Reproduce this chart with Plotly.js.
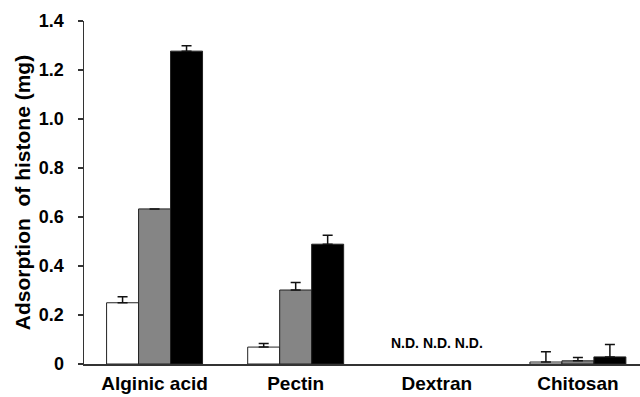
<!DOCTYPE html>
<html>
<head>
<meta charset="utf-8">
<script src="https://cdn.plot.ly/plotly-3.0.1.min.js"></script>
<style>html,body{margin:0;padding:0;background:#fff;}#chart{width:640px;height:397px;}</style>
</head>
<body>
<div id="chart"></div>
<script>
var categories = ["Alginic acid", "Pectin", "Dextran", "Chitosan"];
var series1 = [0.25, 0.069, null, 0.008];
var series1Err = [0.024, 0.015, null, 0.042];
var series2 = [0.633, 0.302, null, 0.013];
var series2Err = [null, 0.031, null, 0.014];
var series3 = [1.277, 0.489, null, 0.029];
var series3Err = [0.022, 0.037, null, 0.051];
var yTickVals = [0, 0.2, 0.4, 0.6, 0.8, 1.0, 1.2, 1.4];
var yTickText = ["0", "0.2", "0.4", "0.6", "0.8", "1.0", "1.2", "1.4"];
var ndLabel = "N.D. N.D. N.D.";

function mk(y, err, fill) {
  var minus = err.map(function (e) { return e === null ? null : 0; });
  return {
    type: "bar", x: categories, y: y,
    marker: {color: fill, line: {color: "#222", width: 1}},
    error_y: {type: "data", array: err, arrayminus: minus, symmetric: false,
              color: "#111", thickness: 1.5, width: 5},
    hoverinfo: "none", showlegend: false
  };
}
var data = [mk(series1, series1Err, "#ffffff"), mk(series2, series2Err, "#858585"), mk(series3, series3Err, "#000000")];
var fam = "Liberation Sans, Arial, sans-serif";
var layout = {
  width: 640, height: 397,
  margin: {l: 84, r: 0, t: 21, b: 33},
  paper_bgcolor: "#fff", plot_bgcolor: "#fff",
  barmode: "group", bargap: 0.32, bargroupgap: 0,
  showlegend: false,
  font: {family: fam, size: 15, color: "#000"},
  xaxis: {
    type: "category", range: [-0.5, 3.44],
    showline: true, linecolor: "#333", linewidth: 1.5,
    ticks: "", showgrid: false, zeroline: false, ticklabelstandoff: 2,
    tickfont: {family: fam, size: 19, color: "#000", weight: "bold"}
  },
  yaxis: {
    range: [0, 1.4], tickvals: yTickVals, ticktext: yTickText,
    showline: true, linecolor: "#333", linewidth: 1.5,
    ticks: "outside", ticklen: 5, tickwidth: 1.5, tickcolor: "#333",
    showgrid: false, zeroline: false, ticklabelstandoff: 10,
    tickfont: {family: fam, size: 18, color: "#000", weight: "bold"},
    title: {text: "Adsorption  of histone (mg)", standoff: 2,
            font: {family: fam, size: 21, color: "#000", weight: "bold"}}
  },
  annotations: [{
    x: "Dextran", y: 0, yanchor: "bottom", yshift: 11, showarrow: false,
    text: ndLabel,
    font: {family: fam, size: 14, color: "#000", weight: "bold"}
  }]
};
Plotly.newPlot("chart", data, layout, {displayModeBar: false, staticPlot: true});
</script>
</body>
</html>
